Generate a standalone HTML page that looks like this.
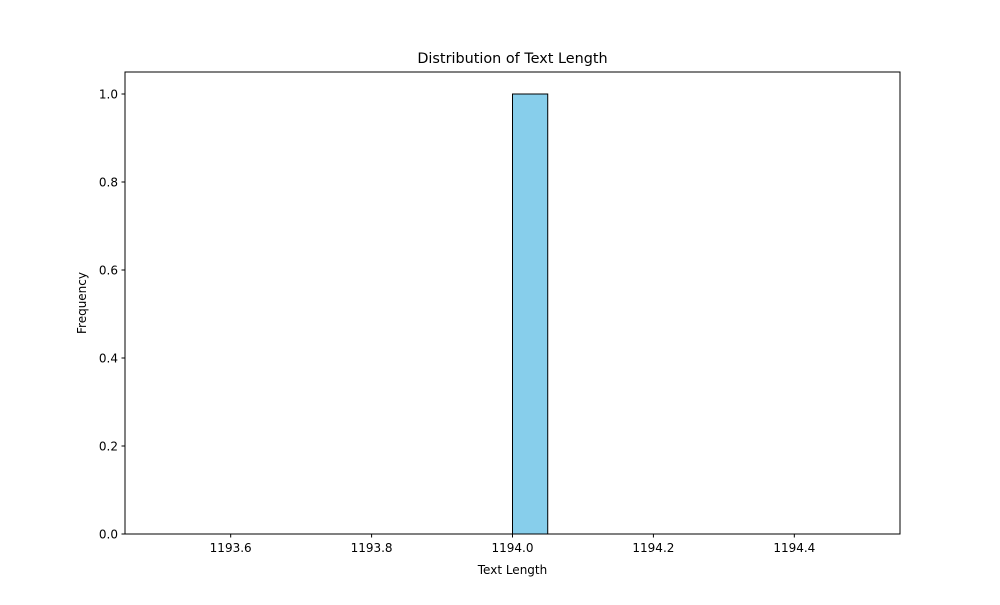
<!DOCTYPE html>
<html><head><meta charset="utf-8"><style>
body{margin:0;background:#fff;}
svg text{font-family:"DejaVu Sans","Liberation Sans",sans-serif;}
</style></head><body>
<svg width="1000" height="600" xmlns="http://www.w3.org/2000/svg">
<rect width="1000" height="600" fill="#fff"/>
<text x="512.5" y="63" text-anchor="middle" font-size="14.4">Distribution of Text Length</text>
<g id="bars"></g>
<g id="xticks"></g>
<g id="yticks"></g>
<rect x="125" y="72" width="775" height="462" fill="none" stroke="#000" stroke-width="1"/>
<text x="512.5" y="574" text-anchor="middle" font-size="12">Text Length</text>
<text transform="translate(86,303) rotate(-90)" text-anchor="middle" font-size="12">Frequency</text>
</svg>
<script>
const binStart = 1193.5;
const binWidth = 0.05;
const counts = [0,0,0,0,0,0,0,0,0,0,1,0,0,0,0,0,0,0,0,0];
const xTicks = [1193.6,1193.8,1194.0,1194.2,1194.4];
const xTickLabels = ["1193.6","1193.8","1194.0","1194.2","1194.4"];
const yTicks = [0,0.2,0.4,0.6,0.8,1.0];
const yTickLabels = ["0.0","0.2","0.4","0.6","0.8","1.0"];
const NS="http://www.w3.org/2000/svg";
const L=125,R=900,T=72,B=534;
const xmin=1193.45,xmax=1194.55,ymin=0,ymax=1.05;
const xs=v=>L+(v-xmin)/(xmax-xmin)*(R-L);
const ys=v=>B-(v-ymin)/(ymax-ymin)*(B-T);
const bars=document.getElementById('bars');
counts.forEach((c,i)=>{
  const r=document.createElementNS(NS,'rect');
  const x0=xs(binStart+i*binWidth),x1=xs(binStart+(i+1)*binWidth);
  r.setAttribute('x',x0);r.setAttribute('width',x1-x0);
  r.setAttribute('y',ys(c));r.setAttribute('height',ys(0)-ys(c));
  r.setAttribute('fill','#87ceeb');r.setAttribute('stroke','#000');r.setAttribute('stroke-width','1');
  
  
  bars.appendChild(r);
});
const xg=document.getElementById('xticks');
xTicks.forEach((v,i)=>{
  const l=document.createElementNS(NS,'line');
  l.setAttribute('x1',xs(v));l.setAttribute('x2',xs(v));l.setAttribute('y1',B);l.setAttribute('y2',B+3.5);l.setAttribute('stroke','#000');
  
  
  xg.appendChild(l);
  const t=document.createElementNS(NS,'text');
  t.setAttribute('x',xs(v));t.setAttribute('y',B+18);t.setAttribute('text-anchor','middle');t.setAttribute('font-size','12');
  t.textContent=xTickLabels[i];
  
  
  xg.appendChild(t);
});
const yg=document.getElementById('yticks');
yTicks.forEach((v,i)=>{
  const l=document.createElementNS(NS,'line');
  l.setAttribute('x1',L-3.5);l.setAttribute('x2',L);l.setAttribute('y1',ys(v));l.setAttribute('y2',ys(v));l.setAttribute('stroke','#000');
  
  
  yg.appendChild(l);
  const t=document.createElementNS(NS,'text');
  t.setAttribute('x',L-7);t.setAttribute('y',ys(v)+4.5);t.setAttribute('text-anchor','end');t.setAttribute('font-size','12');
  t.textContent=yTickLabels[i];
  
  
  yg.appendChild(t);
});
</script>
</body></html>
